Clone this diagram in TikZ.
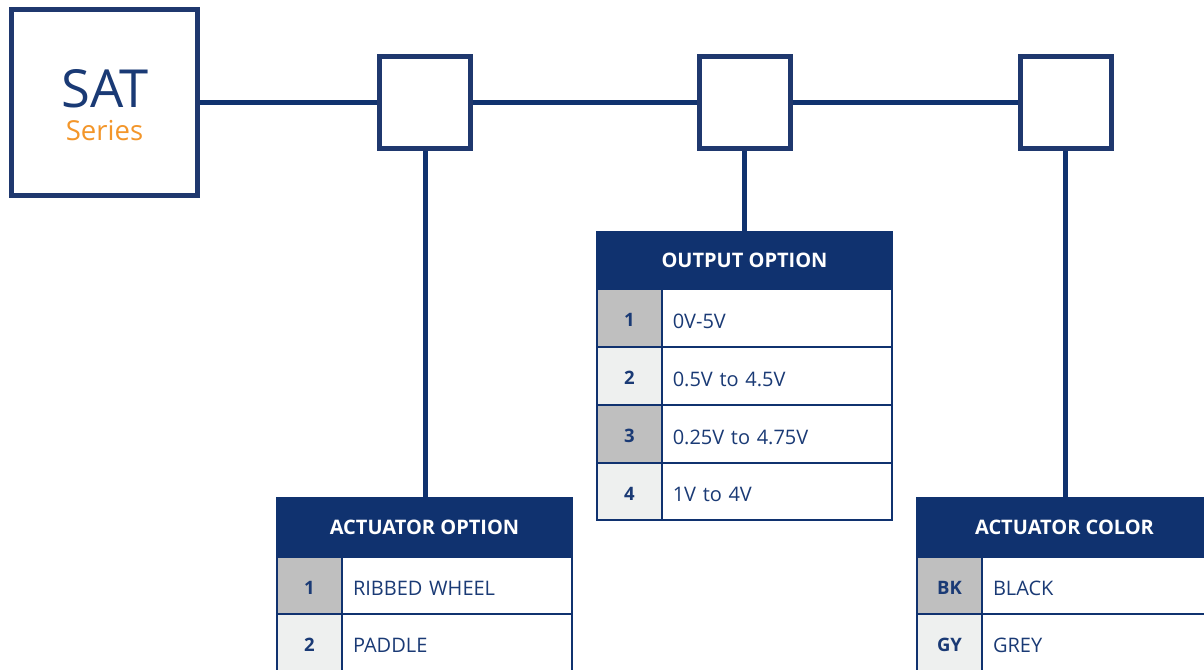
\documentclass[tikz,border=0pt]{standalone}
\usepackage{fontspec}
\setmainfont{Open Sans}
\definecolor{navy}{HTML}{10326F}
\definecolor{boxnavy}{HTML}{1F386E}
\definecolor{txtnavy}{HTML}{1A3A75}
\definecolor{orng}{HTML}{F3962A}
\definecolor{gdark}{HTML}{BFBFBF}
\definecolor{glight}{HTML}{EEF0EF}
\begin{document}
\begin{tikzpicture}[x=1pt,y=-1pt,
  codebox/.style={rectangle, draw=boxnavy, line width=5pt, fill=white, minimum size=91pt, inner sep=0pt},
  conn/.style={draw=navy, line width=5pt},
  hdr/.style={rectangle, draw=navy, fill=navy, line width=2pt, minimum width=295pt, inner sep=0pt, text=white,
    font=\bfseries\fontsize{20}{22}\selectfont, text height=14.3pt, text depth=0pt},
  numc/.style={rectangle, draw=navy, line width=2pt, minimum width=65pt, minimum height=58pt, inner sep=0pt, text=txtnavy,
    font=\bfseries\fontsize{18.5}{20}\selectfont, text height=17.2pt, text depth=0pt},
  txtc/.style={rectangle, draw=navy, line width=2pt, fill=white, minimum width=230pt, minimum height=58pt, text width=208pt,
    align=left, inner xsep=11pt, inner ysep=0pt, text=txtnavy,
    font=\fontsize{20}{22}\selectfont, text height=20.3pt, text depth=0pt}
]
\useasboundingbox (0,0) rectangle (1204,669);
\clip (0,0) rectangle (1204,669);

% SAT box
\node[codebox, minimum width=186.5pt, minimum height=186pt] (sat) at (104.25,102.5) {};
\node[anchor=base, inner sep=0pt, text=txtnavy, font=\fontsize{52.5}{52}\selectfont] (satt) at (105,107) {SAT};
\node[anchor=base, inner sep=0pt, text=orng, font=\fontsize{27.5}{27}\selectfont] (sers) at (104.5,140) {Series};

% code boxes
\node[codebox] (b1) at (425,102.5) {};
\node[codebox] (b2) at (744.5,102.5) {};
\node[codebox] (b3) at (1065.5,102.5) {};

% output option table
\node[hdr, minimum height=57pt] (h2) at (744.5,260.5) {OUTPUT OPTION};
\node[numc, fill=gdark, minimum height=58pt] (o1n) at (629.5,318) {1};
\node[txtc, minimum width=229.5pt] (o1t) at (776.75,318) {0V-5V};
\node[numc, fill=glight] (o2n) at (629.5,376) {2};
\node[txtc, minimum width=229.5pt] (o2t) at (776.75,376) {0.5V to 4.5V};
\node[numc, fill=gdark] (o3n) at (629.5,434) {3};
\node[txtc, minimum width=229.5pt] (o3t) at (776.75,434) {0.25V to 4.75V};
\node[numc, fill=glight, minimum height=57pt] (o4n) at (629.5,491.5) {4};
\node[txtc, minimum width=229.5pt, minimum height=57pt] (o4t) at (776.75,491.5) {1V to 4V};

% actuator option table
\node[hdr, minimum height=59pt] (h1) at (424.5,527.5) {ACTUATOR OPTION};
\node[numc, fill=gdark, minimum height=57pt] (a1n) at (309.5,585.5) {1};
\node[txtc, minimum height=57pt] (a1t) at (457,585.5) {RIBBED WHEEL};
\node[numc, fill=glight, minimum height=57pt] (a2n) at (309.5,642.5) {2};
\node[txtc, minimum height=57pt] (a2t) at (457,642.5) {PADDLE};

% actuator color table
\node[hdr, minimum height=59pt] (h3) at (1064.5,527.5) {ACTUATOR COLOR};
\node[numc, fill=gdark, minimum height=57pt] (c1n) at (949.5,585.5) {BK};
\node[txtc, minimum height=57pt] (c1t) at (1097,585.5) {BLACK};
\node[numc, fill=glight, minimum height=57pt] (c2n) at (949.5,642.5) {GY};
\node[txtc, minimum height=57pt] (c2t) at (1097,642.5) {GREY};

% connectors
\draw[conn] (sat.east) -- (b1.west);
\draw[conn] (b1.east) -- (b2.west);
\draw[conn] (b2.east) -- (b3.west);
\draw[conn] (b1.south) -- (b1.south |- h1.north);
\draw[conn] (b2.south) -- (b2.south |- h2.north);
\draw[conn] (b3.south) -- (b3.south |- h3.north);
\end{tikzpicture}
\end{document}
